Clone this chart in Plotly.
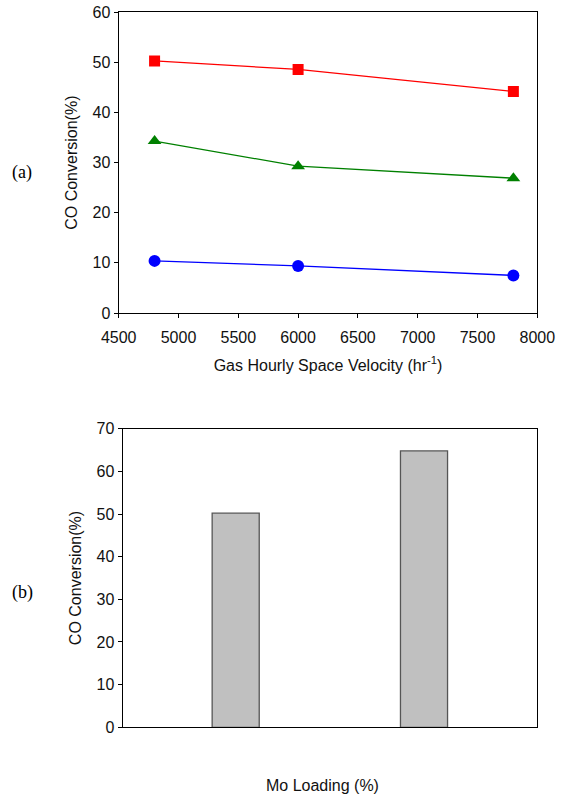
import plotly.graph_objects as go

# ---- data ----
ghsv = [4800, 6000, 7800]
red_vals = [50.3, 48.6, 44.2]
green_vals = [34.3, 29.3, 26.9]
blue_vals = [10.4, 9.4, 7.5]

mo_positions = [0, 1]
mo_conversion = [50.2, 64.8]

W, H = 565, 794
fig = go.Figure()

fig.add_trace(go.Scatter(x=ghsv, y=red_vals, mode="lines+markers",
                         line=dict(color="#FF0000", width=1.3),
                         marker=dict(symbol="square", size=11, color="#FF0000"),
                         xaxis="x", yaxis="y", showlegend=False))
fig.add_trace(go.Scatter(x=ghsv, y=green_vals, mode="lines+markers",
                         line=dict(color="#008000", width=1.3),
                         marker=dict(symbol="triangle-up", size=12, color="#008000"),
                         xaxis="x", yaxis="y", showlegend=False))
fig.add_trace(go.Scatter(x=ghsv, y=blue_vals, mode="lines+markers",
                         line=dict(color="#0000FF", width=1.3),
                         marker=dict(symbol="circle", size=12, color="#0000FF"),
                         xaxis="x", yaxis="y", showlegend=False))

fig.add_trace(go.Bar(x=mo_positions, y=mo_conversion, width=0.25,
                     marker=dict(color="#C0C0C0", line=dict(color="#555555", width=1.3)),
                     xaxis="x2", yaxis="y2", showlegend=False))

font = "Liberation Sans, Arial, sans-serif"
TXT = "#111111"
axis_common = dict(showline=True, linecolor="black", linewidth=1.3, mirror=True,
                   showgrid=False, zeroline=False, automargin=False,
                   tickfont=dict(family=font, size=16, color=TXT))

fig.update_layout(
    width=W, height=H,
    margin=dict(l=0, r=0, t=0, b=0),
    paper_bgcolor="white", plot_bgcolor="white",
    xaxis=dict(domain=[118.7 / W, 537.3 / W], range=[4500, 8000], dtick=500,
               ticks="outside", ticklen=4, tickcolor="black", anchor="y",
               ticklabelstandoff=6,
               title=dict(text="Gas Hourly Space Velocity (hr<sup>-1</sup>)",
                          font=dict(family=font, size=16, color=TXT), standoff=14),
               **axis_common),
    yaxis=dict(domain=[1 - 313 / H, 1 - 12.3 / H], range=[0, 60], dtick=10,
               ticks="outside", ticklen=4, tickcolor="black", anchor="x",
               title=dict(text="CO Conversion(%)",
                          font=dict(family=font, size=16, color=TXT), standoff=10),
               **axis_common),
    xaxis2=dict(domain=[122.7 / W, 537 / W], range=[-0.6, 1.6],
                showticklabels=False, ticks="", anchor="y2",
                **axis_common),
    yaxis2=dict(domain=[1 - 727.3 / H, 1 - 428.7 / H], range=[0, 70], dtick=10,
                ticks="outside", ticklen=4, tickcolor="black", anchor="x2",
                title=dict(text="CO Conversion(%)",
                           font=dict(family=font, size=16, color=TXT), standoff=10),
                **axis_common),
    annotations=[
        dict(text="Mo Loading (%)", x=322 / W, y=1 - 785 / H, xref="paper", yref="paper",
             showarrow=False, font=dict(family=font, size=16, color=TXT),
             xanchor="center", yanchor="middle"),
        dict(text="(a)", x=22 / W, y=1 - 172 / H, xref="paper", yref="paper",
             showarrow=False, font=dict(family="Liberation Serif, Times New Roman, serif", size=18, color="black"),
             xanchor="center", yanchor="middle"),
        dict(text="(b)", x=22 / W, y=1 - 592 / H, xref="paper", yref="paper",
             showarrow=False, font=dict(family="Liberation Serif, Times New Roman, serif", size=18, color="black"),
             xanchor="center", yanchor="middle"),
    ],
)

fig.write_html("out.html", config={"displayModeBar": False},
               post_script="document.body.style.margin='0';document.body.style.overflow='hidden';")
